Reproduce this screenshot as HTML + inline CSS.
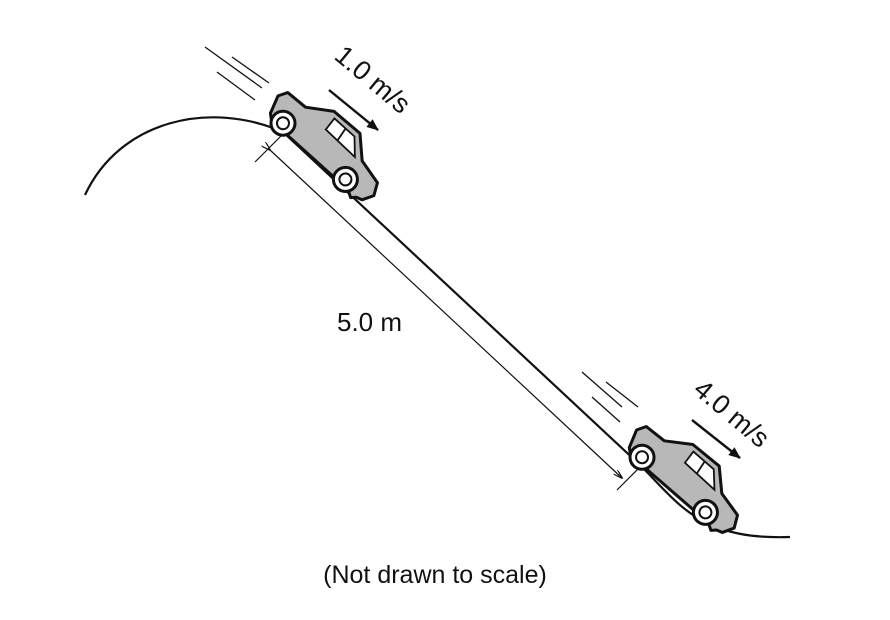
<!DOCTYPE html>
<html><head><meta charset="utf-8"><style>body{margin:0;background:#fff}svg{display:block}</style></head><body>
<svg width="890" height="620" viewBox="0 0 890 620" xmlns="http://www.w3.org/2000/svg" font-family="Liberation Sans, Arial, sans-serif">
<defs>
<marker id="ah" markerWidth="12" markerHeight="10" refX="11" refY="5" orient="auto" markerUnits="userSpaceOnUse"><path d="M0,0 L12,5 L0,10 z" fill="#111"/></marker>
<marker id="as" markerWidth="10" markerHeight="6" refX="9" refY="3" orient="auto" markerUnits="userSpaceOnUse"><path d="M0,0 L10,3 L0,6" fill="none" stroke="#111" stroke-width="1.2"/></marker>
<g id="car">
<path d="M-16,4 L-22,-14 L-17,-23 L6,-24 L30,-40 L64,-41 L84,-22 L110,-16 L116,-4 L110,7 L104,9 L100,13 L93,9 L-10,9 z" fill="#b8b8b8" stroke="#111" stroke-width="3" stroke-linejoin="round"/>
<path d="M35,-35 L62,-35 L76,-20 L36,-21 z M50,-35 L52,-21" fill="#fff" stroke="#111" stroke-width="1.8"/>
<circle cx="0" cy="3" r="12" fill="#fff" stroke="#111" stroke-width="3"/><circle cx="0" cy="3" r="6" fill="#fff" stroke="#111" stroke-width="2"/>
<circle cx="84" cy="3" r="12" fill="#fff" stroke="#111" stroke-width="3"/><circle cx="84" cy="3" r="6" fill="#fff" stroke="#111" stroke-width="2"/>
</g>
</defs>
<g fill="none" stroke="#111">
<path d="M85,195 C120,120 210,100 283,132 L640,465 C680,505 700,540 790,537" stroke-width="2.2"/>
<path d="M270,150 L622,478" stroke-width="1.2" marker-start="url(#as)" marker-end="url(#as)"/>
<path d="M255,162 L283,134 M617,490 L641,466" stroke-width="1.2"/>
<path d="M205,47 L262,88 M217,72 L255,100 M232,57 L269,83" stroke-width="1.3"/>
<path d="M582,372 L622,407 M606,382 L638,407 M592,397 L620,422" stroke-width="1.3"/>
<path d="M329,90 L378,130" stroke-width="2.4" marker-end="url(#ah)"/>
<path d="M692,420 L740,458" stroke-width="2.4" marker-end="url(#ah)"/>
</g>
<use href="#car" transform="translate(285,121) rotate(42)"/>
<use href="#car" transform="translate(644,455) rotate(41)"/>
<text x="0" y="0" font-size="27" transform="translate(333,58) rotate(40)" fill="#111">1.0 m/s</text>
<text x="0" y="0" font-size="27" transform="translate(692,392) rotate(40)" fill="#111">4.0 m/s</text>
<text x="337" y="331" font-size="26" fill="#111">5.0 m</text>
<text x="435" y="583" font-size="25" text-anchor="middle" fill="#111">(Not drawn to scale)</text>
</svg>
</body></html>
